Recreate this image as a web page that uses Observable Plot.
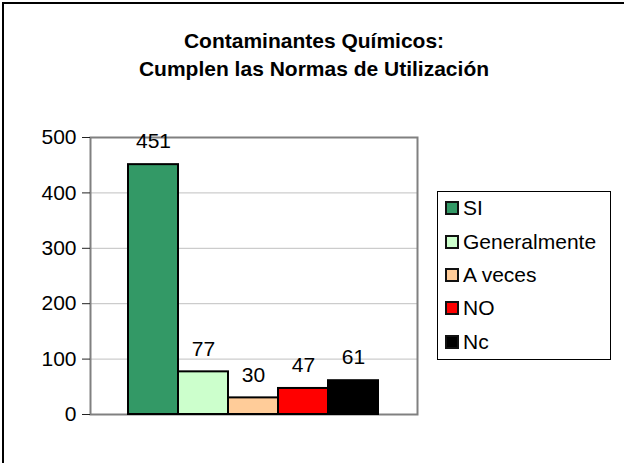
<!DOCTYPE html>
<html>
<head>
<meta charset="utf-8">
<script src="https://cdn.jsdelivr.net/npm/d3@7"></script>
<script src="https://cdn.jsdelivr.net/npm/@observablehq/plot@0.6"></script>
<style>
  html, body { margin: 0; padding: 0; background: #fff; }
  #wrap { position: relative; width: 624px; height: 463px; overflow: hidden; font-family: "Liberation Sans", Arial, sans-serif; }
  #border { position: absolute; left: 2px; top: 2px; width: 700px; height: 600px; border-left: 2px solid #000; border-top: 2px solid #000; box-sizing: border-box; }
  #title { position: absolute; left: 0; top: 27px; width: 628px; text-align: center; font-weight: bold; font-size: 21px; line-height: 28px; color: #000; }
  #chart { position: absolute; left: 0; top: 0; }
  #legend { position: absolute; left: 437px; top: 191px; width: 174px; height: 169px; border: 1px solid #000; box-sizing: border-box; background: #fff; }
  .row { position: absolute; left: 0; height: 22px; display: flex; align-items: center; }
  .sw { width: 14px; height: 14px; box-sizing: border-box; border: 2px solid #111; margin-left: 7px; }
  .lab { margin-left: 4px; font-size: 21px; color: #000; line-height: 22px; }
</style>
</head>
<body>
<div id="wrap">
  <div id="border"></div>
  <div id="chart"></div>
  <div id="title">Contaminantes Químicos:<br>Cumplen las Normas de Utilización</div>
  <div id="legend"></div>
</div>
<script>
const categories = ["SI", "Generalmente", "A veces", "NO", "Nc"];
const values = [451, 77, 30, 47, 61];
const colors = ["#339966", "#CCFFCC", "#FFCC99", "#FF0000", "#000000"];
const yTicks = [0, 100, 200, 300, 400, 500];

const data = categories.map((c, i) => ({cat: c, value: values[i]}));

const plot = Plot.plot({
  width: 624,
  height: 463,
  marginLeft: 90,
  marginRight: 207,
  marginTop: 137,
  marginBottom: 49,
  style: {fontFamily: "'Liberation Sans', Arial, sans-serif", fontSize: "21px", color: "#000", background: "transparent"},
  x: {domain: categories, range: [127, 379], padding: 0, axis: null},
  y: {domain: [0, 500], axis: null},
  color: {domain: categories, range: colors},
  marks: [
    Plot.gridY(yTicks, {stroke: "#c0c0c0", strokeOpacity: 1, strokeWidth: 1}),
    Plot.frame({stroke: "#808080", strokeWidth: 2}),
    Plot.barY(data, {x: "cat", y: "value", fill: "cat", stroke: "#000", strokeWidth: 2}),
    Plot.text(data, {x: "cat", y: "value", text: d => String(d.value), dy: -23, fontSize: 21, fill: "#000", textAnchor: "middle"}),
    Plot.axisY({ticks: yTicks, tickSize: 8, tickPadding: 6, fontSize: 21, stroke: "#222", line: true, label: null})
  ]
});
document.getElementById("chart").appendChild(plot);

const legend = document.getElementById("legend");
const rowCenters = [208, 242, 275, 308, 342];
categories.forEach((c, i) => {
  const row = document.createElement("div");
  row.className = "row";
  row.style.top = (rowCenters[i] - 191 - 1 - 11) + "px";
  const sw = document.createElement("div");
  sw.className = "sw";
  sw.style.background = colors[i];
  const lab = document.createElement("span");
  lab.className = "lab";
  lab.textContent = c;
  row.appendChild(sw);
  row.appendChild(lab);
  legend.appendChild(row);
});
</script>
</body>
</html>
